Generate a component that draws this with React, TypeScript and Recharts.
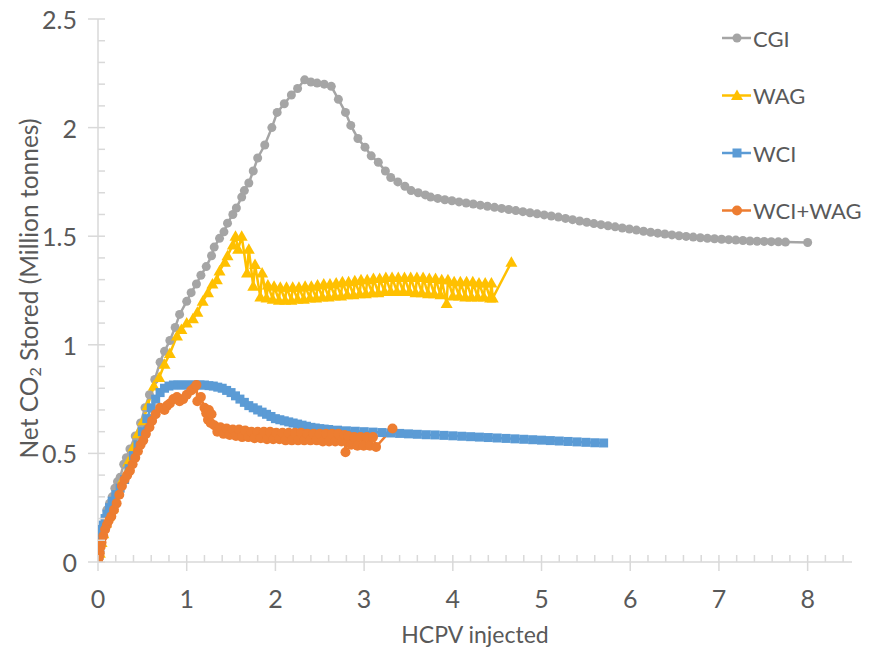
import React from "react";
import { LineChart, Line, XAxis, YAxis, Legend, Label } from "recharts";

type Pt = [number, number];

// HCPV injected vs net CO2 stored (million tonnes)
const cgi: Pt[] = [
  [0, 0], [0.02, 0.05], [0.04, 0.1], [0.06, 0.15], [0.08, 0.2], [0.1, 0.24], [0.13, 0.27],
  [0.16, 0.3], [0.19, 0.34], [0.22, 0.37], [0.25, 0.39], [0.29, 0.45], [0.32, 0.48], [0.36, 0.52],
  [0.42, 0.58], [0.48, 0.64], [0.53, 0.71], [0.58, 0.77], [0.64, 0.84], [0.7, 0.92], [0.75, 0.97],
  [0.81, 1.02], [0.87, 1.08], [0.92, 1.14], [1.0, 1.2], [1.05, 1.24], [1.11, 1.28], [1.16, 1.32],
  [1.22, 1.36], [1.28, 1.41], [1.31, 1.45], [1.37, 1.49], [1.42, 1.52], [1.46, 1.56], [1.52, 1.6],
  [1.56, 1.63], [1.62, 1.68], [1.65, 1.71], [1.7, 1.745], [1.75, 1.8], [1.8, 1.86], [1.88, 1.92],
  [1.96, 2.0], [2.02, 2.07], [2.1, 2.11], [2.18, 2.15], [2.25, 2.18], [2.33, 2.22], [2.4, 2.21],
  [2.47, 2.205], [2.55, 2.2], [2.63, 2.19], [2.71, 2.13], [2.79, 2.07], [2.85, 2.01], [2.93, 1.95],
  [3.01, 1.91], [3.08, 1.87], [3.16, 1.84], [3.24, 1.8], [3.3, 1.77], [3.38, 1.75], [3.46, 1.73],
  [3.53, 1.71], [3.61, 1.7], [3.69, 1.69], [3.75, 1.68], [3.83, 1.674], [3.91, 1.668], [3.99, 1.663],
  [4.07, 1.658], [4.15, 1.653], [4.23, 1.648], [4.31, 1.643], [4.39, 1.638], [4.47, 1.633],
  [4.55, 1.628], [4.63, 1.623], [4.71, 1.618], [4.79, 1.613], [4.87, 1.608], [4.95, 1.603],
  [5.03, 1.598], [5.11, 1.593], [5.19, 1.588], [5.27, 1.582], [5.35, 1.576], [5.43, 1.57],
  [5.51, 1.564], [5.59, 1.558], [5.67, 1.553], [5.75, 1.548], [5.83, 1.543], [5.91, 1.538],
  [5.99, 1.533], [6.07, 1.528], [6.15, 1.523], [6.23, 1.518], [6.31, 1.514], [6.39, 1.51],
  [6.47, 1.506], [6.55, 1.502], [6.63, 1.499], [6.71, 1.496], [6.79, 1.493], [6.87, 1.49],
  [6.95, 1.488], [7.03, 1.486], [7.11, 1.484], [7.19, 1.482], [7.27, 1.48], [7.35, 1.478],
  [7.43, 1.477], [7.51, 1.476], [7.59, 1.475], [7.67, 1.474], [7.75, 1.473], [8.0, 1.471],
];

const wag: Pt[] = [
  [0, 0], [0.02, 0.04], [0.04, 0.09], [0.06, 0.13], [0.09, 0.18], [0.12, 0.21], [0.17, 0.25],
  [0.22, 0.32], [0.28, 0.38], [0.34, 0.46], [0.4, 0.53], [0.45, 0.59], [0.51, 0.65], [0.56, 0.72],
  [0.63, 0.81], [0.69, 0.85], [0.75, 0.91], [0.81, 0.96], [0.89, 1.04], [0.94, 1.07], [1.0, 1.1],
  [1.07, 1.12], [1.12, 1.15], [1.18, 1.2], [1.24, 1.24], [1.29, 1.28], [1.34, 1.3], [1.37, 1.34],
  [1.43, 1.38], [1.46, 1.41], [1.52, 1.46], [1.55, 1.5], [1.58, 1.44], [1.62, 1.5], [1.68, 1.33],
  [1.7, 1.44], [1.75, 1.27], [1.77, 1.37], [1.83, 1.22], [1.85, 1.33],
  [1.9, 1.215], [1.915, 1.275], [1.97, 1.21], [1.985, 1.27], [2.04, 1.205], [2.055, 1.265],
  [2.11, 1.205], [2.125, 1.265], [2.18, 1.205], [2.195, 1.265], [2.25, 1.21], [2.265, 1.265],
  [2.32, 1.21], [2.335, 1.27], [2.39, 1.215], [2.405, 1.27], [2.46, 1.215], [2.475, 1.275],
  [2.53, 1.22], [2.545, 1.28], [2.6, 1.22], [2.615, 1.28], [2.67, 1.225], [2.685, 1.285],
  [2.74, 1.225], [2.755, 1.29], [2.81, 1.23], [2.825, 1.29], [2.88, 1.23], [2.895, 1.295],
  [2.95, 1.235], [2.965, 1.3], [3.02, 1.235], [3.035, 1.3], [3.09, 1.24], [3.105, 1.305],
  [3.16, 1.24], [3.175, 1.305], [3.23, 1.245], [3.245, 1.31], [3.3, 1.245], [3.315, 1.31],
  [3.37, 1.245], [3.385, 1.31], [3.44, 1.245], [3.455, 1.31], [3.51, 1.245], [3.525, 1.31],
  [3.58, 1.24], [3.595, 1.31], [3.65, 1.24], [3.665, 1.31], [3.72, 1.235], [3.735, 1.305],
  [3.79, 1.235], [3.805, 1.305], [3.86, 1.23], [3.875, 1.3], [3.93, 1.19], [3.945, 1.3],
  [4.0, 1.225], [4.015, 1.29], [4.07, 1.225], [4.085, 1.29], [4.14, 1.22], [4.155, 1.29],
  [4.21, 1.22], [4.225, 1.29], [4.28, 1.22], [4.295, 1.285], [4.35, 1.22], [4.365, 1.285],
  [4.42, 1.215], [4.435, 1.285], [4.45, 1.215], [4.66, 1.38],
];

const wci: Pt[] = [
  [0, 0], [0.01, 0.03], [0.02, 0.06], [0.03, 0.09], [0.04, 0.12], [0.05, 0.15], [0.06, 0.17],
  [0.08, 0.2], [0.1, 0.22], [0.13, 0.25], [0.16, 0.28], [0.2, 0.31], [0.25, 0.34], [0.3, 0.38],
  [0.35, 0.43], [0.4, 0.49], [0.45, 0.54], [0.5, 0.6], [0.55, 0.66], [0.6, 0.71], [0.65, 0.75],
  [0.7, 0.78], [0.75, 0.8], [0.8, 0.81], [0.85, 0.815], [0.9, 0.815], [0.95, 0.815], [1.0, 0.815],
  [1.05, 0.815], [1.1, 0.815], [1.15, 0.815], [1.2, 0.815], [1.25, 0.812], [1.3, 0.81],
  [1.35, 0.805], [1.4, 0.8], [1.45, 0.79], [1.5, 0.78], [1.55, 0.765], [1.6, 0.75], [1.65, 0.735],
  [1.7, 0.72], [1.75, 0.71], [1.8, 0.7], [1.85, 0.69], [1.9, 0.68], [1.95, 0.67], [2.0, 0.66],
  [2.05, 0.655], [2.1, 0.65], [2.15, 0.645], [2.2, 0.64], [2.25, 0.635], [2.3, 0.63], [2.35, 0.625],
  [2.4, 0.62], [2.45, 0.617], [2.5, 0.614], [2.55, 0.612], [2.6, 0.61], [2.7, 0.607], [2.8, 0.604],
  [2.9, 0.602], [3.0, 0.6], [3.1, 0.598], [3.2, 0.596], [3.3, 0.594], [3.4, 0.592], [3.5, 0.59],
  [3.6, 0.588], [3.7, 0.586], [3.8, 0.585], [3.9, 0.583], [4.0, 0.581], [4.1, 0.579], [4.2, 0.577],
  [4.3, 0.575], [4.4, 0.573], [4.5, 0.571], [4.6, 0.569], [4.7, 0.567], [4.8, 0.565], [4.9, 0.563],
  [5.0, 0.561], [5.1, 0.559], [5.2, 0.557], [5.3, 0.555], [5.4, 0.553], [5.5, 0.551], [5.6, 0.549],
  [5.7, 0.548],
];

const wciWag: Pt[] = [
  [0, 0], [0.01, 0.02], [0.02, 0.04], [0.03, 0.07], [0.04, 0.09], [0.06, 0.12], [0.08, 0.15],
  [0.1, 0.17], [0.12, 0.19], [0.15, 0.21], [0.18, 0.24], [0.21, 0.27], [0.24, 0.31], [0.27, 0.35],
  [0.3, 0.38], [0.33, 0.4], [0.36, 0.42], [0.39, 0.45], [0.42, 0.48], [0.45, 0.51], [0.48, 0.54],
  [0.51, 0.56], [0.54, 0.59], [0.58, 0.62], [0.61, 0.65], [0.65, 0.68], [0.7, 0.71], [0.75, 0.7],
  [0.78, 0.72], [0.81, 0.73], [0.85, 0.75], [0.89, 0.76], [0.92, 0.74], [0.96, 0.75], [1.0, 0.77],
  [1.05, 0.79], [1.08, 0.8], [1.11, 0.815], [1.12, 0.74], [1.16, 0.76], [1.2, 0.71], [1.22, 0.685],
  [1.25, 0.7], [1.24, 0.655], [1.28, 0.68], [1.27, 0.64],
  [1.31, 0.63], [1.345, 0.6], [1.38, 0.62], [1.415, 0.59], [1.45, 0.615], [1.485, 0.585],
  [1.52, 0.61], [1.555, 0.58], [1.59, 0.61], [1.625, 0.575], [1.66, 0.605], [1.695, 0.575],
  [1.73, 0.6], [1.765, 0.57], [1.8, 0.6], [1.835, 0.57], [1.87, 0.6], [1.905, 0.565], [1.94, 0.6],
  [1.975, 0.565], [2.01, 0.595], [2.045, 0.565], [2.08, 0.595], [2.115, 0.56], [2.15, 0.595],
  [2.185, 0.56], [2.22, 0.595], [2.255, 0.56], [2.29, 0.595], [2.325, 0.56], [2.36, 0.59],
  [2.395, 0.56], [2.43, 0.59], [2.465, 0.56], [2.5, 0.59], [2.535, 0.555], [2.57, 0.59],
  [2.605, 0.555], [2.64, 0.59], [2.675, 0.555], [2.71, 0.59], [2.745, 0.555], [2.78, 0.585],
  [2.79, 0.505], [2.82, 0.58], [2.855, 0.54], [2.89, 0.575], [2.925, 0.535], [2.96, 0.575],
  [2.995, 0.535], [3.03, 0.575], [3.065, 0.535], [3.1, 0.575], [3.135, 0.53], [3.32, 0.615],
];

const xTicks = [0, 1, 2, 3, 4, 5, 6, 7, 8];
const yTicks = [0, 0.5, 1, 1.5, 2, 2.5];

// minor tick positions (every 0.2 on x, every 0.1 on y)
const xAllTicks = Array.from({ length: 43 }, (_, i) => +(i * 0.2).toFixed(1));
const yAllTicks = Array.from({ length: 26 }, (_, i) => +(i * 0.1).toFixed(1));

const FONT = "Lato, 'Open Sans', sans-serif";
const TEXT = "#595959";
const AXIS = "#D9D9D9";

const COLORS: Record<string, string> = {
  CGI: "#A5A5A5",
  WAG: "#FFC000",
  WCI: "#5B9BD5",
  "WCI+WAG": "#ED7D31",
};

const toRows = (pts: Pt[]) => pts.map(([x, y]) => ({ x, y }));

const Marker = ({ name, cx, cy }: { name: string; cx: number; cy: number }) => {
  const c = COLORS[name];
  if (name === "WAG") {
    return <path d={`M${cx},${cy - 6}L${cx + 6},${cy + 4.5}L${cx - 6},${cy + 4.5}Z`} fill={c} />;
  }
  if (name === "WCI") {
    return <rect x={cx - 4.5} y={cy - 4.5} width={9} height={9} fill={c} />;
  }
  return <circle cx={cx} cy={cy} r={name === "CGI" ? 4.5 : 5} fill={c} />;
};

const dotFor = (name: string) => (props: any) => (
  <g key={`${name}-${props.index}`}>
    <Marker name={name} cx={props.cx} cy={props.cy} />
  </g>
);

const XTick = (props: any) => {
  const { x, y, payload } = props;
  const v = payload.value;
  const major = xTicks.includes(v);
  return (
    <g>
      <line x1={x} x2={x} y1={y - 7} y2={major ? y + 9 : y} stroke={AXIS} strokeWidth={1.5} />
      {major && (
        <text x={x} y={y + 36} textAnchor="middle" dominantBaseline="central"
          fontFamily={FONT} fontSize={25} fill={TEXT}>
          {v}
        </text>
      )}
    </g>
  );
};

const YTick = (props: any) => {
  const { x, y, payload } = props;
  const v = payload.value;
  const major = yTicks.includes(v);
  return (
    <g>
      <line x1={major ? x - 10 : x} x2={x + 7} y1={y} y2={y} stroke={AXIS} strokeWidth={1.5} />
      {major && (
        <text x={x - 21} y={y} textAnchor="end" dominantBaseline="central"
          fontFamily={FONT} fontSize={25} fill={TEXT}>
          {v}
        </text>
      )}
    </g>
  );
};

const XTitle = (props: any) => {
  const vb = props.viewBox;
  return (
    <text x={vb.x + vb.width / 2} y={vb.y + 72} textAnchor="middle" dominantBaseline="central"
      fontFamily={FONT} fontSize={23} fill={TEXT}>
      HCPV injected
    </text>
  );
};

const YTitle = (props: any) => {
  const vb = props.viewBox;
  const cx = 28;
  const cy = vb.y + vb.height / 2 - 2;
  return (
    <text x={cx} y={cy} transform={`rotate(-90, ${cx}, ${cy})`} textAnchor="middle"
      dominantBaseline="central" fontFamily={FONT} fontSize={24.5} fill={TEXT}>
      Net CO<tspan fontSize={16} dy={6}>2</tspan>
      <tspan dy={-6}> Stored (Million tonnes)</tspan>
    </text>
  );
};

const renderLegend = (props: any) => {
  const items = props.payload || [];
  return (
    <svg width={153} height={215} style={{ overflow: "visible" }}>
      {items.map((it: any, i: number) => {
        const y = 24 + i * 57.5;
        const c = COLORS[it.value];
        return (
          <g key={it.value}>
            <line x1={6} x2={35} y1={y} y2={y} stroke={c} strokeWidth={2.5} />
            <Marker name={it.value} cx={21} cy={y} />
            <text x={37} y={y} dominantBaseline="central" fontFamily={FONT} fontSize={22} fill={TEXT}>
              {it.value}
            </text>
          </g>
        );
      })}
    </svg>
  );
};

const series: { name: string; pts: Pt[] }[] = [
  { name: "CGI", pts: cgi },
  { name: "WAG", pts: wag },
  { name: "WCI", pts: wci },
  { name: "WCI+WAG", pts: wciWag },
];

export default function App() {
  return (
    <div style={{ position: "absolute", left: 0, top: 0, background: "#fff" }}>
      <LineChart width={869} height={650} margin={{ top: 19, right: 17, left: 0, bottom: 0 }}>
        <XAxis
          type="number"
          dataKey="x"
          domain={[0, 8.5]}
          ticks={xAllTicks}
          interval={0}
          height={88}
          tickSize={0}
          tickMargin={0}
          tickLine={false}
          tick={<XTick />}
          axisLine={{ stroke: AXIS, strokeWidth: 1.5 }}
          allowDataOverflow
        >
          <Label content={<XTitle />} />
        </XAxis>
        <YAxis
          type="number"
          dataKey="y"
          domain={[0, 2.5]}
          ticks={yAllTicks}
          interval={0}
          width={98}
          tickSize={0}
          tickMargin={0}
          tickLine={false}
          tick={<YTick />}
          axisLine={{ stroke: AXIS, strokeWidth: 1.5 }}
          allowDataOverflow
        >
          <Label content={<YTitle />} />
        </YAxis>
        <Legend
          layout="vertical"
          align="center"
          verticalAlign="middle"
          wrapperStyle={{ left: 716, top: 14 }}
          content={renderLegend}
        />
        {series.map((s) => (
          <Line
            key={s.name}
            name={s.name}
            data={toRows(s.pts)}
            dataKey="y"
            type="linear"
            stroke={COLORS[s.name]}
            strokeWidth={2.5}
            dot={dotFor(s.name)}
            activeDot={false}
            isAnimationActive={false}
          />
        ))}
      </LineChart>
    </div>
  );
}
